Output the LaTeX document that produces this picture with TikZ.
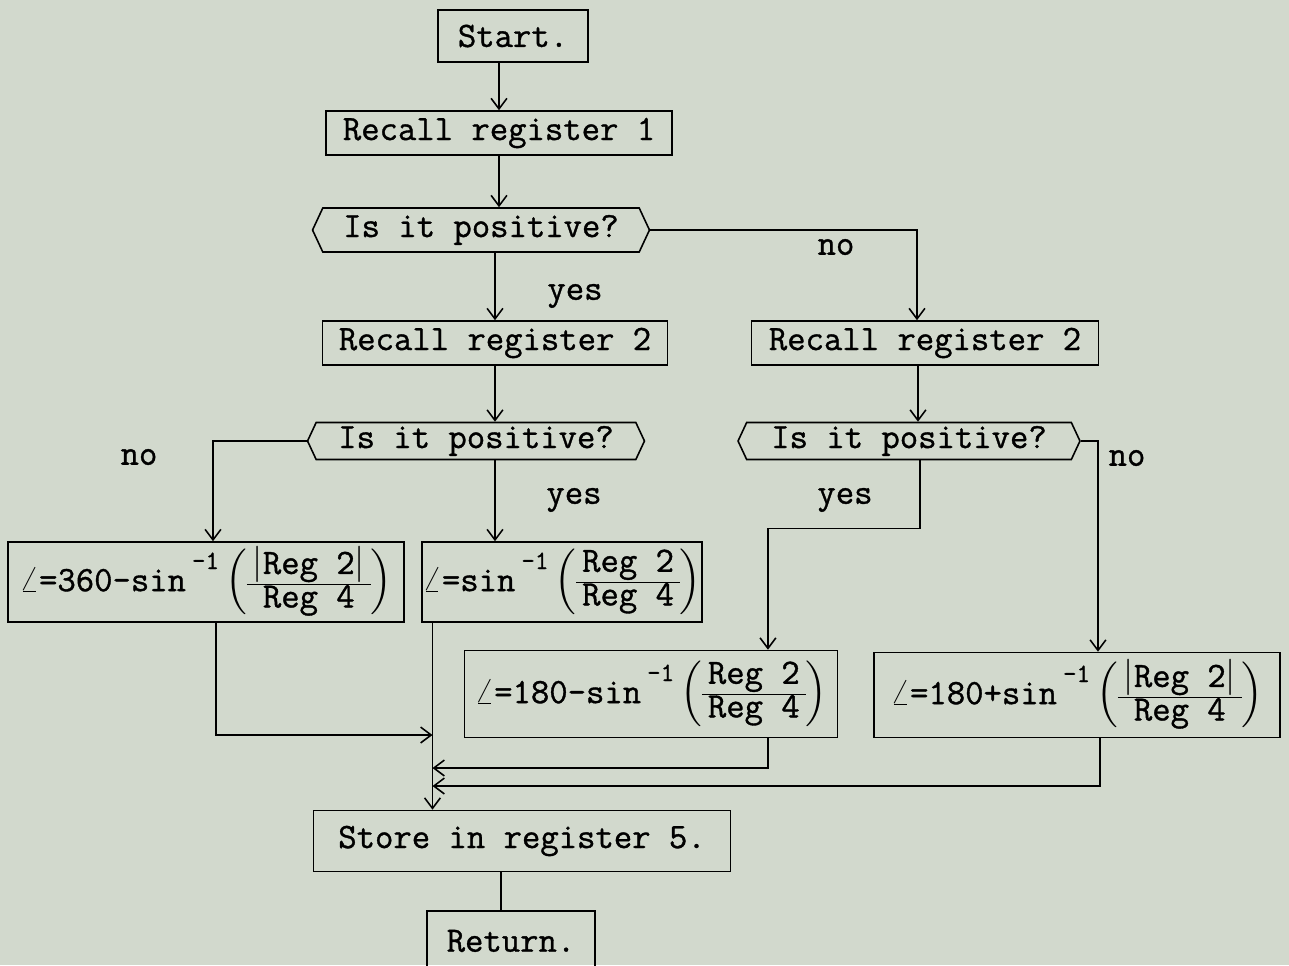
\documentclass[tikz,border=0pt]{standalone}
\usepackage{fontspec}
\setmainfont{Latin Modern Mono}[FakeBold=1]
\usepackage{amsmath}
\usetikzlibrary{positioning,shapes.symbols,arrows.meta}
\definecolor{paper}{RGB}{210,217,205}
\newcommand{\inv}{\,\raisebox{0.62em}{\fontsize{15}{15}\selectfont-1}\,}
\newcommand{\regs}[1]{$\left(\renewcommand{\arraystretch}{0.85}\begin{tabular}{@{\,}c@{\,}}#1\\\hline Reg 4\end{tabular}\right)$}

\begin{document}
\begin{tikzpicture}[x=0.02cm,y=-0.02cm,>={Straight Barb[length=6pt,width=9pt]},line width=0.9pt,
        every node/.style={font=\fontsize{20.3}{22}\selectfont},
        box/.style={draw,inner sep=0pt,minimum height=0.88cm},
        ask/.style={draw,signal,signal to=west and east,signal pointer angle=130,inner sep=0pt,minimum height=0.88cm},
        lbl/.style={inner sep=0pt}]
        \fill[paper] (0,0) rectangle (1289,965);
        \useasboundingbox (0,0) rectangle (1289,965);
        % boxes
        \node[box,minimum width=3cm,minimum height=1.04cm] (start) at (513,36) {Start.};
        \node[box,minimum width=6.92cm] (rec1) at (499,133) {Recall register 1};
        \node[ask,minimum width=6.74cm] (ask1) at (481,230) {Is it positive?};
        \node[box,minimum width=6.9cm] (rec2l) at (495,343) {Recall register 2};
        \node[box,minimum width=6.94cm] (rec2r) at (925,343) {Recall register 2};
        \node[ask,minimum width=6.74cm,minimum height=0.74cm] (ask2l) at (476,441) {Is it positive?};
        \node[ask,minimum width=6.84cm,minimum height=0.74cm] (ask2r) at (909,441) {Is it positive?};
        \node[box,minimum width=7.92cm,minimum height=1.6cm] (arca) at (206,582) {$\angle$=360-sin\inv\regs{$|$Reg 2$|$}};
        \node[box,minimum width=5.56cm,minimum height=1.6cm] (arcb) at (562,582) {$\angle$=sin\inv\regs{Reg 2}};
        \node[box,minimum width=7.46cm,minimum height=1.74cm] (arcc) at (651,694) {$\angle$=180-sin\inv\regs{Reg 2}};
        \node[box,minimum width=8.12cm,minimum height=1.7cm] (arcd) at (1077,695) {$\angle$=180+sin\inv\regs{$|$Reg 2$|$}};
        \node[box,minimum width=8.34cm,minimum height=1.22cm] (store) at (522,841) {Store in register 5.};
        \node[box,minimum width=3.36cm,minimum height=1.2cm] (ret) at (511,941) {Return.};
        % labels
        \node[lbl] (yes1) at (575,296) {yes};
        \node[lbl] (no1) at (836,247) {no};
        \node[lbl] (no2) at (139,457) {no};
        \node[lbl] (yes2) at (574,500) {yes};
        \node[lbl] (yes3) at (845,500) {yes};
        \node[lbl] (no3) at (1127,458) {no};
        % connectors
        \draw[->] (start.south -| rec1) -- (rec1.north);
        \draw[->] (rec1.south) -- (rec1.south |- ask1.north);
        \draw[->] (ask1.south -| rec2l) -- (rec2l.north);
        \draw[->] (ask1.east) -| ([xshift=-0.16cm]rec2r.north);
        \draw[->] (rec2l.south) -- (rec2l.south |- ask2l.north);
        \draw[->] ([xshift=-0.14cm]rec2r.south) -- ([xshift=-0.14cm]rec2r.south |- ask2r.north);
        \draw[->] (ask2l.west) -| ([xshift=0.14cm]arca.north);
        \draw[->] (ask2l.south -| rec2l) -- (rec2l |- arcb.north);
        \draw[->] ([xshift=0.22cm]ask2r.south) -- ++(0,68) -| ([xshift=2.34cm]arcc.north);
        \draw[->] (ask2r.east) -| ([xshift=0.42cm]arcd.north);
        \coordinate (tk) at ([xshift=0.22cm]arcb.south west);
        \draw[->] (tk) -- (tk |- store.north);
        \draw[->] ([xshift=0.2cm]arca.south) |- (tk |- 0,735);
        \draw[->] ([xshift=2.34cm]arcc.south) |- (tk |- 0,768);
        \draw[->] ([xshift=0.46cm]arcd.south) |- (tk |- 0,786);
        \draw ([xshift=-0.2cm]store.south -| ret) -- ([xshift=-0.2cm]ret.north);
\end{tikzpicture}
\end{document}
